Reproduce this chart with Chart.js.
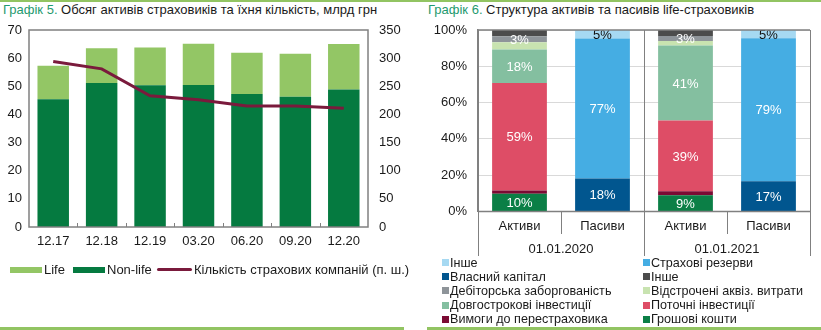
<!DOCTYPE html>
<html>
<head>
<meta charset="utf-8">
<script src="https://cdn.jsdelivr.net/npm/chart.js@4"></script>
<style>
  body { margin: 0; background: #fff; }
  #wrap { position: relative; width: 821px; height: 330px; overflow: hidden; font-family: "Liberation Sans", Arial, sans-serif; }
  .title { position: absolute; top: 2px; font-family: "Liberation Sans Narrow", "Arial Narrow", "Liberation Sans", sans-serif; font-size: 13px; color: #1a1a1a; white-space: nowrap; }
  .title span { color: #1f9a6f; }
  .leg { position: absolute; font-family: "Liberation Sans Narrow", "Arial Narrow", "Liberation Sans", sans-serif; font-size: 12.6px; color: #1a1a1a; white-space: nowrap; line-height: 14px; }
  .leg.wide { font-family: "Liberation Sans", Arial, sans-serif; font-size: 13px; line-height: 15px; }
  .sw { position: absolute; }
  canvas { position: absolute; }
  .rule { position: absolute; background: #92c462; }
</style>
</head>
<body>
<div id="wrap">
  <div class="rule" style="left:0;top:0;width:821px;height:2px"></div>
  <div class="rule" style="left:0;top:327px;width:404px;height:3px"></div>
  <div class="rule" style="left:427px;top:327px;width:394px;height:3px"></div>
  <div class="title" style="left:3px"><span>Графік 5.</span> Обсяг активів страховиків та їхня кількість, млрд грн</div>
  <div class="title" style="left:428px"><span>Графік 6.</span> Структура активів та пасивів life-страховиків</div>
  <canvas id="c5" width="405" height="262" style="left:0;top:0"></canvas>
  <canvas id="c6" width="411" height="261" style="left:410px;top:0"></canvas>
  <div id="leg5"></div>
  <div id="leg6"></div>
</div>
<script>
// графік 5
const periods = ['12.17', '12.18', '12.19', '03.20', '06.20', '09.20', '12.20'];
const nonLife = [45.4, 51.2, 50.4, 50.5, 47.3, 46.3, 48.9];
const life = [11.9, 12.3, 13.4, 14.6, 14.6, 15.3, 16.1];
const insurers = [294, 281, 233, 226, 215, 215, 211];

// графік 6
const barLabels = ['Активи', 'Пасиви', 'Активи', 'Пасиви'];
const dateLabels = ['01.01.2020', '01.01.2021'];
const cash = [9.8, null, 8.9, null];
const reinsurance = [1.8, null, 2.2, null];
const currentInv = [59.2, null, 39.0, null];
const longInv = [18.4, null, 41.4, null];
const deferred = [4.0, null, 2.4, null];
const receivables = [3.4, null, 2.8, null];
const otherAssets = [3.4, null, 3.3, null];
const equity = [null, 18.2, null, 16.6];
const reserves = [null, 77.1, null, 78.8];
const otherLiab = [null, 4.7, null, 4.6];

const frameColor = '#808080';
const tickFont = { family: 'Liberation Sans, Arial, sans-serif', size: 13 };

// рамка навколо області графіка + дрібні риски на осі x
const frame5 = {
  id: 'frame5',
  afterDraw(chart) {
    const { ctx, chartArea: a } = chart;
    const x = chart.scales.x;
    ctx.save();
    ctx.strokeStyle = frameColor;
    ctx.lineWidth = 1.5;
    ctx.strokeRect(a.left, a.top, a.right - a.left, a.bottom - a.top);
    ctx.lineWidth = 1;
    const step = (a.right - a.left) / periods.length;
    for (let i = 1; i < periods.length; i++) {
      const px = Math.round(x.getPixelForValue(i) - step / 2) + 0.5;
      ctx.beginPath();
      ctx.moveTo(px, a.bottom);
      ctx.lineTo(px, a.bottom - 4);
      ctx.stroke();
    }
    ctx.restore();
  }
};

new Chart(document.getElementById('c5'), {
  type: 'bar',
  data: {
    labels: periods,
    datasets: [
      { label: 'Non-life', data: nonLife, backgroundColor: '#057a40', order: 1, yAxisID: 'y' },
      { label: 'Life', data: life, backgroundColor: '#93c665', order: 1, yAxisID: 'y' },
      { label: 'Кількість страхових компаній (п. ш.)', type: 'line', data: insurers, borderColor: '#7a1a3c',
        backgroundColor: '#7a1a3c', borderWidth: 3, pointRadius: 0, tension: 0, order: 0, yAxisID: 'y1' }
    ]
  },
  options: {
    responsive: false,
    animation: false,
    layout: { padding: { left: 0, right: 0, top: 30, bottom: 10 } },
    plugins: { legend: { display: false }, tooltip: { enabled: false } },
    datasets: { bar: { barPercentage: 0.65, categoryPercentage: 1 } },
    scales: {
      x: {
        stacked: true,
        grid: { display: false, drawTicks: false },
        border: { display: false },
        ticks: { color: '#1a1a1a', font: tickFont, padding: 7, maxRotation: 0 },
        afterFit: s => { s.height = 25; }
      },
      y: {
        stacked: true, min: 0, max: 70,
        grid: { display: false, drawTicks: false },
        border: { display: false },
        ticks: { stepSize: 10, color: '#1a1a1a', font: tickFont, padding: 7 },
        afterFit: s => { s.width = 29; }
      },
      y1: {
        position: 'right', min: 0, max: 350,
        grid: { display: false, drawTicks: false },
        border: { display: false },
        ticks: { stepSize: 50, color: '#1a1a1a', font: tickFont, padding: 11 },
        afterFit: s => { s.width = 37; }
      }
    }
  },
  plugins: [frame5]
});

// підписи значень усередині стовпців
const barValues = {
  id: 'barValues',
  afterDatasetsDraw(chart) {
    const { ctx } = chart;
    ctx.save();
    ctx.font = '13px "Liberation Sans", Arial, sans-serif';
    ctx.textAlign = 'center';
    ctx.textBaseline = 'middle';
    chart.data.datasets.forEach((ds, di) => {
      if (!ds.showValue) return;
      const meta = chart.getDatasetMeta(di);
      ds.data.forEach((v, i) => {
        if (v == null) return;
        const el = meta.data[i];
        ctx.fillStyle = ds.valueColor || '#fff';
        ctx.fillText(Math.round(v) + '%', el.x, (el.y + el.base) / 2 + 1);
      });
    });
    ctx.restore();
  }
};

// рамка та роздільники категорій під віссю
const frame6 = {
  id: 'frame6',
  afterDraw(chart) {
    const { ctx, chartArea: a } = chart;
    const x = chart.scales.x;
    const x2 = chart.scales.x2;
    ctx.save();
    ctx.strokeStyle = frameColor;
    ctx.lineWidth = 1.5;
    ctx.beginPath();
    ctx.moveTo(a.left, a.top);
    ctx.lineTo(a.right, a.top);
    ctx.moveTo(a.left, a.bottom);
    ctx.lineTo(a.right, a.bottom);
    ctx.stroke();
    ctx.lineWidth = 1;
    const step = (a.right - a.left) / barLabels.length;
    for (let i = 0; i <= barLabels.length; i++) {
      const px = Math.round(x.getPixelForValue(i) - step / 2) + 0.5;
      const long = i % 2 === 0;
      ctx.beginPath();
      ctx.moveTo(px, long ? a.top : a.bottom);
      ctx.lineTo(px, long ? x2.bottom - 1 : x.bottom);
      ctx.stroke();
    }
    ctx.restore();
  }
};

const set6 = [
  { label: 'Грошові кошти', data: cash, backgroundColor: '#0b7f46', showValue: true },
  { label: 'Вимоги до перестраховика', data: reinsurance, backgroundColor: '#7b0a33' },
  { label: 'Поточні інвестиції', data: currentInv, backgroundColor: '#de4d66', showValue: true },
  { label: 'Довгострокові інвестиції', data: longInv, backgroundColor: '#84bfa0', showValue: true },
  { label: 'Відстрочені аквіз. витрати', data: deferred, backgroundColor: '#c8e3b0' },
  { label: 'Дебіторська заборгованість', data: receivables, backgroundColor: '#8e9499', showValue: true },
  { label: 'Інше', data: otherAssets, backgroundColor: '#4c4c4c' },
  { label: 'Власний капітал', data: equity, backgroundColor: '#01568f', showValue: true },
  { label: 'Страхові резерви', data: reserves, backgroundColor: '#45ade3', showValue: true },
  { label: 'Інше', data: otherLiab, backgroundColor: '#a6d9f2', showValue: true, valueColor: '#111' }
];

new Chart(document.getElementById('c6'), {
  type: 'bar',
  data: { labels: barLabels, datasets: set6 },
  options: {
    responsive: false,
    animation: false,
    layout: { padding: { left: 0, right: 11, top: 30, bottom: 4 } },
    plugins: { legend: { display: false }, tooltip: { enabled: false } },
    datasets: { bar: { barPercentage: 0.66, categoryPercentage: 1 } },
    scales: {
      x: {
        stacked: true,
        grid: { display: false, drawTicks: false },
        border: { display: false },
        ticks: { color: '#1a1a1a', font: tickFont, padding: 7, maxRotation: 0 },
        afterFit: s => { s.height = 22.5; }
      },
      x2: {
        type: 'category',
        position: 'bottom',
        weight: 1,
        labels: dateLabels,
        offset: true,
        grid: { display: false, drawTicks: false },
        border: { display: false },
        ticks: { color: '#1a1a1a', font: tickFont, padding: 8, maxRotation: 0 },
        afterFit: s => { s.height = 23; }
      },
      y: {
        stacked: true, min: 0, max: 100,
        grid: { color: '#d9d9d9', drawTicks: false },
        border: { color: frameColor, width: 1.5 },
        ticks: { stepSize: 20, color: '#1a1a1a', font: tickFont, padding: 11, callback: v => v + '%' },
        afterFit: s => { s.width = 68; }
      }
    }
  },
  plugins: [barValues, frame6]
});

// легенда графіка 5
const leg5 = document.getElementById('leg5');
[
  { text: 'Life', color: '#93c665', x: 10, w: 32, h: 6 },
  { text: 'Non-life', color: '#057a40', x: 73, w: 32, h: 6 },
  { text: 'Кількість страхових компаній (п. ш.)', color: '#7a1a3c', x: 157, w: 35, h: 3 }
].forEach(it => {
  const sw = document.createElement('div');
  sw.className = 'sw';
  sw.style.cssText = `left:${it.x}px;top:${269.5 - it.h / 2}px;width:${it.w}px;height:${it.h}px;background:${it.color};border-radius:${it.h < 4 ? 2 : 0}px`;
  leg5.appendChild(sw);
  const t = document.createElement('div');
  t.className = 'leg wide';
  t.style.cssText = `left:${it.x + it.w + 2}px;top:262px`;
  t.textContent = it.text;
  leg5.appendChild(t);
});

// легенда графіка 6: дві колонки, зворотний порядок
const leg6 = document.getElementById('leg6');
set6.slice().reverse().forEach((ds, i) => {
  const col = i % 2, row = Math.floor(i / 2);
  const x = col ? 643 : 442;
  const y = 262.5 + row * 14.2;
  const sw = document.createElement('div');
  sw.className = 'sw';
  sw.style.cssText = `left:${x}px;top:${y - 3.5}px;width:7px;height:7px;background:${ds.backgroundColor}`;
  leg6.appendChild(sw);
  const t = document.createElement('div');
  t.className = 'leg';
  t.style.cssText = `left:${x + 8}px;top:${y - 7}px`;
  t.textContent = ds.label;
  leg6.appendChild(t);
});
</script>
</body>
</html>
